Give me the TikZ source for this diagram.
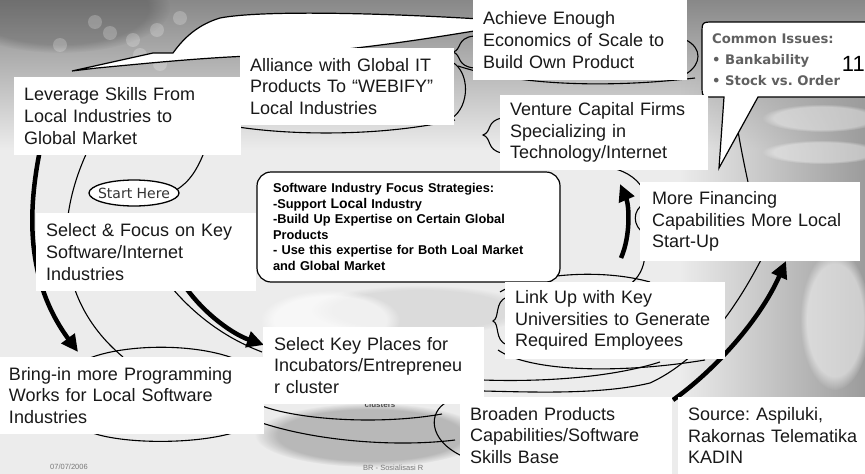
\documentclass[tikz,border=0pt]{standalone}
\usepackage{fontspec}
\setmainfont{Liberation Sans}
\newfontfamily\dejavu{DejaVu Sans}
\usetikzlibrary{arrows.meta,fadings}
\frenchspacing
\definecolor{bgbase}{HTML}{ECECEC}
\definecolor{bgtop}{HTML}{888888}
\definecolor{graymid}{HTML}{9C9C9C}
\definecolor{calltext}{HTML}{606060}
\definecolor{foottext}{HTML}{777777}
\begin{document}
\begin{tikzpicture}[x=1pt,y=-1pt,
  swirl/.style={draw=black, line width=1.1pt},
  thickarrow/.style={draw=black, line width=4.5pt, -{Triangle[length=17pt,width=16pt]}},
  tbox/.style={fill=white, anchor=north west, align=left, inner ysep=0pt, inner xsep=10pt, outer sep=0pt,
    font=\fontsize{18}{21.6}\selectfont, text=black!90},
  cbox/.style={draw=black, line width=1.2pt, rounded corners=14pt, fill=white, anchor=north west, align=left,
    inner xsep=16pt, inner ysep=0pt, outer sep=0pt, font=\bfseries\fontsize{12.8}{15.5}\selectfont},
  callt/.style={anchor=base west, inner sep=0pt, text=calltext, font=\dejavu\bfseries\fontsize{13.2}{13.2}\selectfont},
  foot/.style={anchor=base west, inner sep=0pt, text=foottext, font=\fontsize{7.5}{7.5}\selectfont}
]
\useasboundingbox (0,0) rectangle (865,474);
\clip (0,0) rectangle (865,474);

% ---------- background ----------
\fill[bgbase] (0,0) rectangle (865,474);
\shade[top color=bgtop, bottom color=bgbase] (0,0) rectangle (865,150);
\fill[black, opacity=.18, path fading=circle with fuzzy edge 20 percent] (60,8) ellipse [x radius=110, y radius=45];
\foreach \p in {(95,22),(110,33),(133,40),(157,30),(180,18),(187,47),(207,32),(230,40),(140,55),(160,64),(250,28),(60,45)}
  \fill[white, opacity=.22] \p circle [radius=7];
\fill[graymid, path fading=west] (680,60) rectangle (865,430);
\fill[white, opacity=.4, path fading=circle with fuzzy edge 20 percent] (822,118) ellipse [x radius=60, y radius=14];
\fill[white, opacity=.4, path fading=circle with fuzzy edge 20 percent] (822,152) ellipse [x radius=60, y radius=12];
\fill[white, opacity=.5, path fading=circle with fuzzy edge 20 percent] (835,320) ellipse [x radius=35, y radius=70];
\fill[black, opacity=.22, path fading=circle with fuzzy edge 20 percent] (370,435) ellipse [x radius=115, y radius=32];
\fill[black, opacity=.07, path fading=circle with fuzzy edge 20 percent] (420,310) ellipse [x radius=110, y radius=25];
\fill[white, opacity=.6, path fading=circle with fuzzy edge 20 percent] (330,320) ellipse [x radius=70, y radius=30];

% ---------- thin swirl lines ----------
\draw[swirl] (88,150) .. controls (55,220) and (55,300) .. (123,357);
\draw[swirl] (205,150) .. controls (198,168) and (190,182) .. (176,190);
\draw[swirl] (172,288) .. controls (195,315) and (225,338) .. (262,352);
\draw[swirl] (733,97) .. controls (737,130) and (744,165) .. (752,200);
\draw[swirl] (762,258) .. controls (735,310) and (700,360) .. (650,383) .. controls (600,395) and (530,392) .. (483,391);
\draw[swirl] (483,380) .. controls (540,382) and (610,378) .. (660,362);
\draw[swirl] (612,168) .. controls (628,172) and (640,180) .. (646,195);
\draw[swirl] (645,255) .. controls (644,268) and (639,278) .. (628,286);
% Link Up cloud
\draw[swirl] (500,292) .. controls (530,274) and (600,268) .. (650,282);
\draw[swirl] (498,350) .. controls (530,372) and (620,374) .. (705,360);
\draw[swirl] (507,297) .. controls (494,302) and (500,318) .. (493,321) .. controls (500,324) and (494,340) .. (507,345);
% Achieve cloud
\draw[swirl] (474,36) .. controls (456,38) and (462,50) .. (453,52) .. controls (462,55) and (456,66) .. (474,68);
\draw[swirl] (458,66) .. controls (520,86) and (610,88) .. (695,78);
\draw[swirl] (686,40) .. controls (702,48) and (702,64) .. (686,74);
% Alliance cloud
\draw[swirl] (452,62) .. controls (470,72) and (470,106) .. (452,118);
\draw[swirl] (238,127) .. controls (290,135) and (380,137) .. (455,120);
% Venture / More financing braces
\draw[swirl] (502,118) .. controls (486,121) and (492,132) .. (483,135) .. controls (492,138) and (486,150) .. (502,153);
\draw[swirl] (645,203) .. controls (632,210) and (632,226) .. (645,234);
% Bring-in cloud
\draw[swirl] (85,360) .. controls (120,344) and (195,342) .. (238,360);
\draw[swirl] (90,432) .. controls (120,444) and (195,445) .. (236,432);
% Select key places cloud
\draw[swirl] (262,406) .. controls (300,420) and (380,425) .. (442,414);
\draw[swirl] (262,423) .. controls (320,442) and (400,447) .. (455,440);
% Broaden cloud
\draw[swirl] (447,402) .. controls (428,412) and (428,440) .. (462,456);

% ---------- thick arrows ----------
\draw[thickarrow] (40,150) .. controls (28,210) and (25,280) .. (78,352);
\draw[thickarrow] (182,282) .. controls (200,310) and (230,333) .. (264,345);
\draw[thickarrow] (621,258) .. controls (631,235) and (629,205) .. (620,184);
\draw[thickarrow] (673,400) .. controls (715,370) and (760,320) .. (786,261);

% ---------- big white curved arrow ----------
\filldraw[fill=white, draw=black, line width=1.2pt]
  (480,19) .. controls (380,13) and (262,10) .. (220,18)
  .. controls (200,24) and (185,36) .. (173,53) -- (153,53) -- (72,71) -- (97,68)
  .. controls (150,63) and (200,58) .. (250,56)
  .. controls (330,54) and (420,40) .. (480,30) -- cycle;

% ---------- central strategy box ----------
\node[cbox, minimum width=303pt, minimum height=110pt, text width=271pt] (focus) at (257,172)
  {Software Industry Focus Strategies:\\
   -Support {\fontsize{14}{15.5}\selectfont Local} Industry\\
   -Build Up Expertise on Certain Global\\
   Products\\
   - Use this expertise for Both Loal Market\\
   and Global Market};

% ---------- callout ----------
\filldraw[fill=white, draw=black, line width=1.2pt]
  (870,22) -- (714,22) .. controls (702,22) .. (702,34) -- (702,85) .. controls (702,97) .. (714,97)
  -- (724,97) -- (719,168) -- (758,97) -- (870,97);
\node[callt] (ci1) at (712,43) {Common Issues:};
\node[callt] (ci2) at (712,64) {• Bankability};
\node[callt] (ci3) at (712,85) {• Stock vs. Order};

% ---------- footer & hidden labels ----------
\node[foot] (date) at (50,469) {07/07/2006};
\node[foot] (brs) at (363,470) {BR - Sosialisasi R};
\node[anchor=base, inner sep=0pt, font=\bfseries\fontsize{8}{8}\selectfont, text=black!70] (clu) at (380,407) {clusters};

% ---------- white text boxes ----------
\node[tbox, minimum width=227pt, minimum height=78pt, text width=207pt] (lev) at (14,77)
  {Leverage Skills From\\Local Industries to\\Global Market};
\node[tbox, minimum width=214pt, minimum height=77pt, text width=194pt] (all) at (240,48)
  {Alliance with Global IT\\Products To “WEBIFY”\\Local Industries};
\node[tbox, minimum width=214pt, minimum height=80pt, text width=194pt] (ach) at (473,0)
  {Achieve Enough\\Economics of Scale to\\Build Own Product};
\node[tbox, minimum width=208pt, minimum height=75pt, text width=188pt] (ven) at (500,95)
  {Venture Capital Firms\\Specializing in\\Technology/Internet};
\node[tbox, minimum width=220pt, minimum height=79pt, text width=196pt, inner xsep=12pt] (fin) at (640,182)
  {More Financing\\Capabilities More Local\\Start-Up};
\node[tbox, minimum width=220pt, minimum height=77pt, text width=200pt] (link) at (505,282)
  {Link Up with Key\\Universities to Generate\\Required Employees};
\node[tbox, minimum width=220pt, minimum height=78pt, text width=200pt] (sel) at (36,213)
  {Select \& Focus on Key\\Software/Internet\\Industries};
\node[tbox, minimum width=219pt, minimum height=77pt, text width=199pt, inner xsep=11pt] (inc) at (263,327)
  {Select Key Places for\\Incubators/Entrepreneu\\r cluster};
\node[tbox, minimum width=264pt, minimum height=77pt, text width=246pt, inner xsep=9pt] (bring) at (0,357)
  {Bring-in more Programming\\Works for Local Software\\Industries};
\node[tbox, minimum width=212pt, minimum height=77pt, text width=192pt] (broad) at (460,397)
  {Broaden Products\\Capabilities/Software\\Skills Base};
\node[tbox, minimum width=192pt, minimum height=77pt, text width=172pt] (src) at (678,397)
  {Source: Aspiluki,\\Rakornas Telematika\\KADIN};

% ---------- start here ----------
\filldraw[fill=white, draw=black, line width=1.3pt] (134,193) ellipse [x radius=45, y radius=13];
\node[inner sep=0pt, font=\dejavu\fontsize{14}{14}\selectfont, text=black!80] (start) at (134,193) {Start Here};

% ---------- page number ----------
\node[anchor=base east, inner sep=0pt, font=\fontsize{22}{22}\selectfont] (pg) at (865,71) {11};
\end{tikzpicture}
\end{document}
